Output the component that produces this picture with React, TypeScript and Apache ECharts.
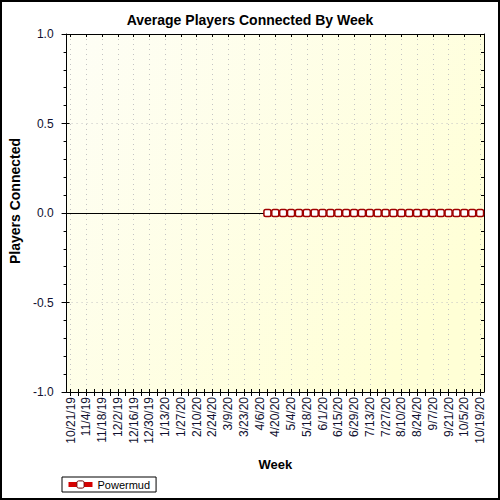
import React, { useEffect, useRef } from "react";
import * as echarts from "echarts";

const weeks: string[] = [
  "10/21/19", "10/28/19", "11/4/19", "11/11/19", "11/18/19", "11/25/19",
  "12/2/19", "12/9/19", "12/16/19", "12/23/19", "12/30/19", "1/6/20",
  "1/13/20", "1/20/20", "1/27/20", "2/3/20", "2/10/20", "2/17/20",
  "2/24/20", "3/2/20", "3/9/20", "3/16/20", "3/23/20", "3/30/20",
  "4/6/20", "4/13/20", "4/20/20", "4/27/20", "5/4/20", "5/11/20",
  "5/18/20", "5/25/20", "6/1/20", "6/8/20", "6/15/20", "6/22/20",
  "6/29/20", "7/6/20", "7/13/20", "7/20/20", "7/27/20", "8/3/20",
  "8/10/20", "8/17/20", "8/24/20", "8/31/20", "9/7/20", "9/14/20",
  "9/21/20", "9/28/20", "10/5/20", "10/12/20", "10/19/20",
];

const powermud: (number | null)[] = [
  null, null, null, null, null, null, null, null, null, null,
  null, null, null, null, null, null, null, null, null, null,
  null, null, null, null, null,
  0, 0, 0, 0, 0, 0, 0, 0, 0, 0,
  0, 0, 0, 0, 0, 0, 0, 0, 0, 0,
  0, 0, 0, 0, 0, 0, 0, 0,
];

const yTicks = { min: -1, max: 1, interval: 0.5 };

const FONT = "'Liberation Sans', Arial, sans-serif";
const LABEL_COLOR = "#101030";

export default function App() {
  const ref = useRef<HTMLDivElement>(null);

  useEffect(() => {
    if (!ref.current) return;
    const chart = echarts.init(ref.current, undefined, { renderer: "svg" });
    const black = { color: "#000", width: 1 };
    const catBase = {
      type: "category" as const,
      data: weeks,
      boundaryGap: true,
    };
    const valBase = {
      type: "value" as const,
      min: yTicks.min,
      max: yTicks.max,
      interval: yTicks.interval,
    };
    chart.setOption({
      animation: false,
      backgroundColor: "#fff",
      textStyle: { fontFamily: FONT },
      title: {
        text: "Average Players Connected By Week",
        left: "center",
        top: 8,
        textStyle: { fontSize: 14, fontWeight: "bold", color: "#000", fontFamily: FONT },
      },
      legend: {
        left: 62,
        top: 477,
        orient: "horizontal",
        backgroundColor: "#fff",
        borderColor: "#000",
        borderWidth: 1,
        borderRadius: 0,
        padding: [2, 6, 2, 4],
        itemWidth: 24,
        itemHeight: 9,
        itemGap: 5,
        lineStyle: { color: "#d40000", width: 5 },
        itemStyle: { color: "#fff", borderColor: "#700000", borderWidth: 1 },
        textStyle: { fontSize: 11, color: "#000", fontFamily: FONT },
        data: ["Powermud"],
      },
      grid: {
        left: 63,
        right: 16,
        top: 34,
        bottom: 108,
        show: true,
        borderWidth: 0,
        backgroundColor: new echarts.graphic.LinearGradient(0, 0, 1, 0.6, [
          { offset: 0, color: "#fefef6" },
          { offset: 1, color: "#ffffd6" },
        ]),
      },
      xAxis: [
        {
          ...catBase,
          position: "bottom",
          axisLine: { show: true, onZero: false, lineStyle: black },
          axisTick: { show: true, alignWithLabel: true, interval: 0, length: 4, lineStyle: black },
          axisLabel: {
            interval: 1,
            rotate: 90,
            fontSize: 12,
            margin: 5,
            color: LABEL_COLOR,
            fontFamily: FONT,
          },
          splitLine: {
            show: true,
            interval: 1,
            alignWithLabel: true,
            lineStyle: { color: "#c4c4c4", width: 1, type: [1, 4] },
          },
          name: "Week",
          nameLocation: "middle",
          nameGap: 66,
          nameTextStyle: { fontSize: 13, fontWeight: "bold", color: "#000", fontFamily: FONT },
        },
        {
          ...catBase,
          position: "bottom",
          axisLine: { show: false, onZero: false },
          axisTick: { show: true, inside: true, alignWithLabel: true, interval: 0, length: 3, lineStyle: black },
          axisLabel: { show: false },
          splitLine: { show: false },
        },
        {
          ...catBase,
          position: "top",
          axisLine: { show: true, onZero: false, lineStyle: black },
          axisTick: { show: true, inside: true, alignWithLabel: true, interval: 1, length: 3, lineStyle: black },
          axisLabel: { show: false },
          splitLine: { show: false },
        },
        {
          ...catBase,
          position: "bottom",
          axisLine: { show: true, onZero: true, lineStyle: black },
          axisTick: { show: false },
          axisLabel: { show: false },
          splitLine: { show: false },
        },
      ],
      yAxis: [
        {
          ...valBase,
          position: "left",
          axisLine: { show: true, onZero: false, lineStyle: black },
          axisTick: { show: true, length: 5, lineStyle: black },
          minorTick: { show: true, splitNumber: 5, length: 3, lineStyle: black },
          axisLabel: {
            fontSize: 12,
            margin: 13,
            color: LABEL_COLOR,
            fontFamily: FONT,
            formatter: (v: number) => v.toFixed(1),
          },
          splitLine: {
            show: true,
            lineStyle: { color: "#c4c4c4", width: 1, type: [1, 4] },
          },
          name: "Players Connected",
          nameLocation: "middle",
          nameRotate: 90,
          nameGap: 40,
          nameTextStyle: {
            fontSize: 14,
            fontWeight: "bold",
            color: "#000",
            fontFamily: FONT,
            padding: [0, 0, 0, 24],
          },
        },
        {
          ...valBase,
          position: "left",
          axisLine: { show: false, onZero: false },
          axisTick: { show: true, inside: true, length: 3, lineStyle: black },
          axisLabel: { show: false },
          splitLine: { show: false },
        },
        {
          ...valBase,
          position: "right",
          axisLine: { show: true, onZero: false, lineStyle: black },
          axisTick: { show: true, inside: true, length: 3, lineStyle: black },
          minorTick: { show: true, splitNumber: 5, length: 3, lineStyle: black },
          axisLabel: { show: false },
          splitLine: { show: false },
        },
      ],
      series: [
        {
          name: "Powermud",
          type: "line",
          xAxisIndex: 0,
          yAxisIndex: 0,
          data: powermud,
          symbol: "roundRect",
          symbolSize: 7,
          showAllSymbol: true,
          lineStyle: { color: "#a00000", width: 2.5 },
          itemStyle: { color: "#fff", borderColor: "#a00000", borderWidth: 1.5 },
          z: 5,
        },
      ],
      graphic: [
        {
          type: "rect",
          shape: { x: 1, y: 1, width: 498, height: 498 },
          style: { fill: "none", stroke: "#000", lineWidth: 2 },
          silent: true,
          z: 100,
        },
      ],
    });
    return () => chart.dispose();
  }, []);

  return (
    <div
      ref={ref}
      style={{ position: "absolute", left: 0, top: 0, width: 500, height: 500 }}
    />
  );
}
